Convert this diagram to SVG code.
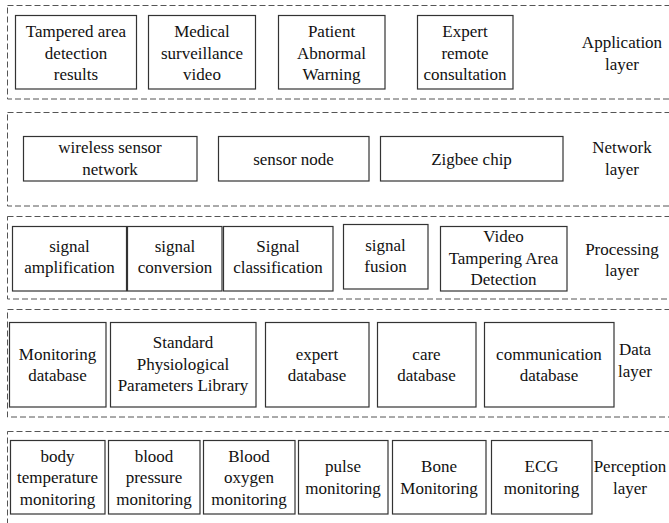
<svg xmlns="http://www.w3.org/2000/svg" width="669" height="523" viewBox="0 0 669 523" font-family="Liberation Serif, DejaVu Serif, serif" font-size="17">
  <style>
    .layer { fill: none; stroke: #555; stroke-width: 1; stroke-dasharray: 6 3; }
    .box { fill: #fff; stroke: #333; stroke-width: 1.2; }
    .t { fill: #111; text-anchor: middle; }
  </style>
  <rect width="669" height="523" fill="#fff"/>

  <!-- layer frames (open on the right) -->
  <g id="layers">
    <rect class="layer" x="7.5" y="5.5" width="680" height="93.5"/>
    <rect class="layer" x="7.5" y="112.5" width="680" height="93.5"/>
    <rect class="layer" x="7.5" y="216.5" width="680" height="82.5"/>
    <rect class="layer" x="7.5" y="309.5" width="680" height="107.5"/>
    <rect class="layer" x="7.5" y="431.5" width="680" height="100"/>
  </g>

  <g id="connectors"></g>

  <!-- Application layer -->
  <g id="app-tampered">
    <rect class="box" x="15.5" y="15.5" width="121" height="73.5"/>
    <text class="t" x="76" y="37">Tampered area</text>
    <text class="t" x="76" y="58.5">detection</text>
    <text class="t" x="76" y="80">results</text>
  </g>
  <g id="app-video">
    <rect class="box" x="148.5" y="15.5" width="107" height="73.5"/>
    <text class="t" x="202" y="37">Medical</text>
    <text class="t" x="202" y="58.5">surveillance</text>
    <text class="t" x="202" y="80">video</text>
  </g>
  <g id="app-warning">
    <rect class="box" x="278.5" y="15.5" width="106.5" height="73.5"/>
    <text class="t" x="331.5" y="37">Patient</text>
    <text class="t" x="331.5" y="58.5">Abnormal</text>
    <text class="t" x="331.5" y="80">Warning</text>
  </g>
  <g id="app-consult">
    <rect class="box" x="417.5" y="15.5" width="95.5" height="73.5"/>
    <text class="t" x="465" y="37">Expert</text>
    <text class="t" x="465" y="58.5">remote</text>
    <text class="t" x="465" y="80">consultation</text>
  </g>
  <g id="label-application">
    <text class="t" x="622" y="48">Application</text>
    <text class="t" x="622" y="69.5">layer</text>
  </g>

  <!-- Network layer -->
  <g id="net-wsn">
    <rect class="box" x="23.5" y="136.5" width="173.5" height="44.5"/>
    <text class="t" x="110" y="153">wireless sensor</text>
    <text class="t" x="110" y="175">network</text>
  </g>
  <g id="net-node">
    <rect class="box" x="218.5" y="136.5" width="150.5" height="44.5"/>
    <text class="t" x="293.5" y="165">sensor node</text>
  </g>
  <g id="net-zigbee">
    <rect class="box" x="380.5" y="136.5" width="182.5" height="44.5"/>
    <text class="t" x="471.5" y="165">Zigbee chip</text>
  </g>
  <g id="label-network">
    <text class="t" x="622" y="153">Network</text>
    <text class="t" x="622" y="175">layer</text>
  </g>

  <!-- Processing layer -->
  <g id="proc-amplification">
    <rect class="box" x="12.5" y="226.5" width="114" height="64.5"/>
    <text class="t" x="69.5" y="252">signal</text>
    <text class="t" x="69.5" y="273">amplification</text>
  </g>
  <g id="proc-conversion">
    <rect class="box" x="127.5" y="226.5" width="94.5" height="64.5"/>
    <text class="t" x="175" y="252">signal</text>
    <text class="t" x="175" y="273">conversion</text>
  </g>
  <g id="proc-classification">
    <rect class="box" x="223.5" y="226.5" width="109.5" height="64.5"/>
    <text class="t" x="278" y="252">Signal</text>
    <text class="t" x="278" y="273">classification</text>
  </g>
  <g id="proc-fusion">
    <rect class="box" x="343.5" y="224.5" width="84.5" height="64.5"/>
    <text class="t" x="385.5" y="251">signal</text>
    <text class="t" x="385.5" y="272">fusion</text>
  </g>
  <g id="proc-tampering">
    <rect class="box" x="440.5" y="226.5" width="126.5" height="64.5"/>
    <text class="t" x="503.5" y="242">Video</text>
    <text class="t" x="503.5" y="264">Tampering Area</text>
    <text class="t" x="503.5" y="285">Detection</text>
  </g>
  <g id="label-processing">
    <text class="t" x="622" y="255">Processing</text>
    <text class="t" x="622" y="276">layer</text>
  </g>

  <!-- Data layer -->
  <g id="data-monitoring">
    <rect class="box" x="9.5" y="322.5" width="96.5" height="84.5"/>
    <text class="t" x="57.5" y="360">Monitoring</text>
    <text class="t" x="57.5" y="381">database</text>
  </g>
  <g id="data-standard">
    <rect class="box" x="110.5" y="322.5" width="145.5" height="84.5"/>
    <text class="t" x="183" y="348">Standard</text>
    <text class="t" x="183" y="370">Physiological</text>
    <text class="t" x="183" y="391">Parameters Library</text>
  </g>
  <g id="data-expert">
    <rect class="box" x="265.5" y="322.5" width="103.5" height="84.5"/>
    <text class="t" x="317" y="360">expert</text>
    <text class="t" x="317" y="381">database</text>
  </g>
  <g id="data-care">
    <rect class="box" x="377.5" y="322.5" width="98.5" height="84.5"/>
    <text class="t" x="426.5" y="360">care</text>
    <text class="t" x="426.5" y="381">database</text>
  </g>
  <g id="data-communication">
    <rect class="box" x="484.5" y="322.5" width="129.5" height="84.5"/>
    <text class="t" x="549" y="360">communication</text>
    <text class="t" x="549" y="381">database</text>
  </g>
  <g id="label-data">
    <text class="t" x="635" y="355">Data</text>
    <text class="t" x="635" y="377">layer</text>
  </g>

  <!-- Perception layer -->
  <g id="perc-temperature">
    <rect class="box" x="10.5" y="440.5" width="94.5" height="73.5"/>
    <text class="t" x="57.5" y="461.5">body</text>
    <text class="t" x="57.5" y="483">temperature</text>
    <text class="t" x="57.5" y="504.5">monitoring</text>
  </g>
  <g id="perc-pressure">
    <rect class="box" x="108.5" y="440.5" width="91.5" height="73.5"/>
    <text class="t" x="154" y="461.5">blood</text>
    <text class="t" x="154" y="483">pressure</text>
    <text class="t" x="154" y="504.5">monitoring</text>
  </g>
  <g id="perc-oxygen">
    <rect class="box" x="203.5" y="440.5" width="91.5" height="73.5"/>
    <text class="t" x="249" y="461.5">Blood</text>
    <text class="t" x="249" y="483">oxygen</text>
    <text class="t" x="249" y="504.5">monitoring</text>
  </g>
  <g id="perc-pulse">
    <rect class="box" x="298.5" y="440.5" width="89.5" height="73.5"/>
    <text class="t" x="343" y="472">pulse</text>
    <text class="t" x="343" y="493.5">monitoring</text>
  </g>
  <g id="perc-bone">
    <rect class="box" x="392.5" y="440.5" width="93.5" height="73.5"/>
    <text class="t" x="439" y="472">Bone</text>
    <text class="t" x="439" y="493.5">Monitoring</text>
  </g>
  <g id="perc-ecg">
    <rect class="box" x="491.5" y="440.5" width="100.5" height="73.5"/>
    <text class="t" x="541.5" y="472">ECG</text>
    <text class="t" x="541.5" y="493.5">monitoring</text>
  </g>
  <g id="label-perception">
    <text class="t" x="630" y="472">Perception</text>
    <text class="t" x="630" y="493.5">layer</text>
  </g>
</svg>
